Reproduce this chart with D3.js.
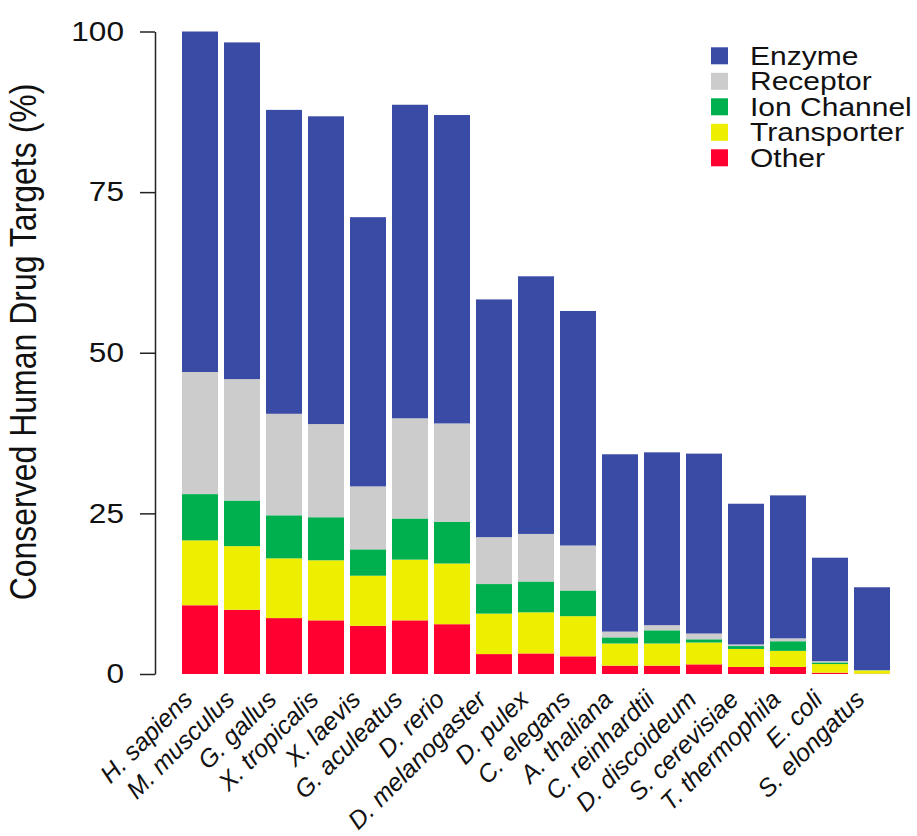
<!DOCTYPE html>
<html>
<head>
<meta charset="utf-8">
<script src="https://cdn.jsdelivr.net/npm/d3@7"></script>
<style>
  body { margin: 0; background: #fff; }
  text { font-family: "Liberation Sans", Arial, sans-serif; fill: #111; }
</style>
</head>
<body>
<div id="chart"></div>
<script>
// Data (percent of human drug targets conserved, by target class)
const species = ["H. sapiens", "M. musculus", "G. gallus", "X. tropicalis", "X. laevis",
    "G. aculeatus", "D. rerio", "D. melanogaster", "D. pulex", "C. elegans",
    "A. thaliana", "C. reinhardtii", "D. discoideum", "S. cerevisiae",
    "T. thermophila", "E. coli", "S. elongatus"];
const classes = ["Other", "Transporter", "Ion Channel", "Receptor", "Enzyme"];
const other       = [10.7, 10.0, 8.7, 8.35, 7.5, 8.35, 7.75, 3.1, 3.2, 2.75, 1.3, 1.3, 1.5, 1.1, 1.1, 0.2, 0.05];
const transporter = [10.1, 9.9, 9.3, 9.35, 7.8, 9.45, 9.45, 6.3, 6.4, 6.25, 3.45, 3.45, 3.4, 2.8, 2.5, 1.35, 0.5];
const ionChannel  = [7.2, 7.1, 6.7, 6.7, 4.1, 6.4, 6.5, 4.6, 4.8, 4.0, 0.95, 2.05, 0.5, 0.45, 1.5, 0.25, 0.03];
const receptor    = [19.0, 18.9, 15.8, 14.5, 9.8, 15.6, 15.3, 7.3, 7.4, 7.0, 0.9, 0.8, 0.9, 0.25, 0.45, 0.2, 0.02];
const enzyme      = [53.0, 52.4, 47.3, 47.9, 41.9, 48.8, 48.0, 37.0, 40.1, 36.5, 27.6, 26.9, 28.0, 21.9, 22.25, 16.1, 12.9];
const yTicks = [0, 25, 50, 75, 100];

const colors = {
    "Enzyme": "#3a4ba6",
    "Receptor": "#cccccc",
    "Ion Channel": "#00b04f",
    "Transporter": "#eeee00",
    "Other": "#ff0030"
};

const width = 917;
const height = 836;
const sx = 1.17; // axis and legend text in the original is a bit wider than Arial

const rows = species.map((s, i) => ({
    species: s,
    "Other": other[i],
    "Transporter": transporter[i],
    "Ion Channel": ionChannel[i],
    "Receptor": receptor[i],
    "Enzyme": enzyme[i]
}));

const svg = d3.select("#chart")
    .append("svg")
    .attr("width", width)
    .attr("height", height);

const x = d3.scaleBand()
    .domain(species)
    .range([179, 893])
    .paddingInner(6 / 42)
    .paddingOuter(3 / 42);

const y = d3.scaleLinear()
    .domain([0, 100])
    .range([674, 31.5]);

const stacked = d3.stack().keys(classes)(rows);

// Bars
svg.append("g")
    .selectAll("g")
    .data(stacked)
    .join("g")
    .attr("fill", d => colors[d.key])
    .selectAll("rect")
    .data(d => d)
    .join("rect")
    .attr("x", d => x(d.data.species))
    .attr("width", x.bandwidth())
    .attr("y", d => y(d[1]))
    .attr("height", d => y(d[0]) - y(d[1]));

// Y axis
const yAxis = svg.append("g")
    .attr("transform", "translate(155,0)")
    .call(d3.axisLeft(y).tickValues(yTicks).tickSize(15).tickSizeOuter(0));

yAxis.select(".domain").attr("stroke", "#222").attr("stroke-width", 1.5);
yAxis.selectAll(".tick line").attr("stroke", "#222").attr("stroke-width", 1.5);
yAxis.selectAll(".tick text")
    .attr("x", null)
    .attr("transform", `translate(-31,0) scale(${sx},1)`)
    .style("font-size", "27px")
    .style("font-family", "'Liberation Sans', Arial, sans-serif")
    .attr("fill", "#111");

// Y axis title
svg.append("text")
    .attr("transform", `translate(36,342) scale(${sx},1) rotate(-90)`)
    .attr("text-anchor", "middle")
    .style("font-size", "32px")
    .text("Conserved Human Drug Targets (%)");

// Species labels
svg.append("g")
    .selectAll("text")
    .data(species)
    .join("text")
    .attr("transform", d => `translate(${x(d) + x.bandwidth() / 2 - 6},701) rotate(-45)`)
    .attr("text-anchor", "end")
    .style("font-size", "25px")
    .style("font-style", "italic")
    .text(d => d);

// Legend
const legendKeys = ["Enzyme", "Receptor", "Ion Channel", "Transporter", "Other"];
const legend = svg.append("g")
    .selectAll("g")
    .data(legendKeys)
    .join("g")
    .attr("transform", (d, i) => `translate(711,${47.3 + i * 25.5})`);

legend.append("rect")
    .attr("width", 17)
    .attr("height", 17)
    .attr("fill", d => colors[d]);

legend.append("text")
    .attr("transform", "translate(39,17.5) scale(1.2,1)")
    .style("font-size", "25px")
    .text(d => d);
</script>
</body>
</html>
